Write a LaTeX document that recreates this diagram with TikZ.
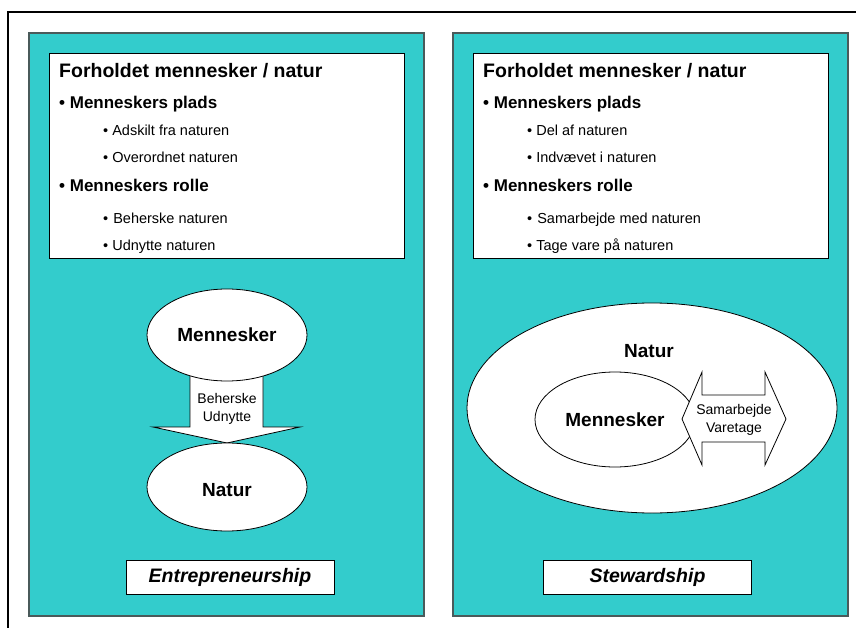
\documentclass[tikz,border=0pt]{standalone}
\usepackage{fontspec}
\setmainfont{Liberation Sans}
\usetikzlibrary{shapes.geometric}
\definecolor{teal1}{HTML}{33CCCC}
\definecolor{panelline}{HTML}{4A5A5A}
\tikzset{
  panel/.style={draw=panelline, line width=1.2pt, fill=teal1},
  textbox/.style={draw=black, line width=0.9pt, fill=white},
  blob/.style={draw=black, line width=0.8pt, fill=white, ellipse, inner sep=0pt},
  arrowshape/.style={draw=black, line width=0.8pt, fill=white, line join=miter},
  title/.style={anchor=base west, inner sep=0pt, font=\bfseries\fontsize{19.5}{22}\selectfont},
  lvlone/.style={anchor=base west, inner sep=0pt, font=\bfseries\fontsize{17}{20}\selectfont},
  lvltwo/.style={anchor=base west, inner sep=0pt, font=\fontsize{14.5}{17}\selectfont},
  bigword/.style={inner sep=0pt, font=\bfseries\fontsize{19}{22}\selectfont},
  smallword/.style={inner sep=0pt, align=center, font=\fontsize{14}{17.5}\selectfont},
  tag/.style={draw=black, line width=0.9pt, fill=white, minimum width=208pt, minimum height=34pt, inner sep=0pt, font=\bfseries\itshape\fontsize{19.5}{22}\selectfont},
}
\begin{document}
\begin{tikzpicture}[x=1pt, y=-1pt]
\useasboundingbox (0,0) rectangle (856,628);
% outer frame
\draw[line width=1.5pt, black] (8,640) -- (8,12) -- (870,12);

% ---------- left panel ----------
\draw[panel] (29,33) rectangle (424,616);
\draw[textbox] (49,53) rectangle (404,258);
\node[title] (lt) at (59,78) {Forholdet mennesker / natur};
\node[lvlone] (la) at (59,109) {• Menneskers plads};
\node[lvltwo] (la1) at (103,136) {• Adskilt fra naturen};
\node[lvltwo] (la2) at (103,163) {• Overordnet naturen};
\node[lvlone] (lb) at (59,192) {• Menneskers rolle};
\node[lvltwo] (lb1) at (103,224) {• \hspace{1pt}Beherske naturen};
\node[lvltwo] (lb2) at (103,251) {• Udnytte naturen};

\draw[arrowshape] (190,350) -- (263,350) -- (263,427) -- (300,427) -- (227,443) -- (153,427) -- (190,427) -- cycle;
\node[smallword] (larrow) at (227,409) {Beherske\\Udnytte};
\node[blob, minimum width=160pt, minimum height=92pt] (lmen) at (227,335) {};
\node[bigword] at (lmen.center) {Mennesker};
\node[blob, minimum width=160pt, minimum height=88pt] (lnat) at (227,487) {};
\node[bigword] at (227,490) {Natur};

\node[tag] (ltag) at (230,577) {Entrepreneurship};

% ---------- right panel ----------
\draw[panel] (453,33) rectangle (848,616);
\draw[textbox] (473,53) rectangle (828,258);
\node[title] (rt) at (483,78) {Forholdet mennesker / natur};
\node[lvlone] (ra) at (483,109) {• Menneskers plads};
\node[lvltwo] (ra1) at (527,136) {• Del af naturen};
\node[lvltwo] (ra2) at (527,163) {• Indvævet i naturen};
\node[lvlone] (rb) at (483,192) {• Menneskers rolle};
\node[lvltwo] (rb1) at (527,224) {• \hspace{1pt}Samarbejde med naturen};
\node[lvltwo] (rb2) at (527,251) {• Tage vare på naturen};

\node[blob, minimum width=370pt, minimum height=210pt] (rnat) at (652,408) {};
\node[bigword] at (649,351) {Natur};
\node[blob, minimum width=160pt, minimum height=95pt] (rmen) at (615,419.5) {};
\node[bigword] at (615,420) {Mennesker};
\draw[arrowshape] (682,419) -- (702,372) -- (702,395) -- (765,395) -- (765,372) -- (786,419) -- (765,465) -- (765,442) -- (702,442) -- (702,465) -- cycle;
\node[smallword] (rarrow) at (734,420) {Samarbejde\\Varetage};

\node[tag] (rtag) at (647.5,577.5) {Stewardship};
\end{tikzpicture}
\end{document}
